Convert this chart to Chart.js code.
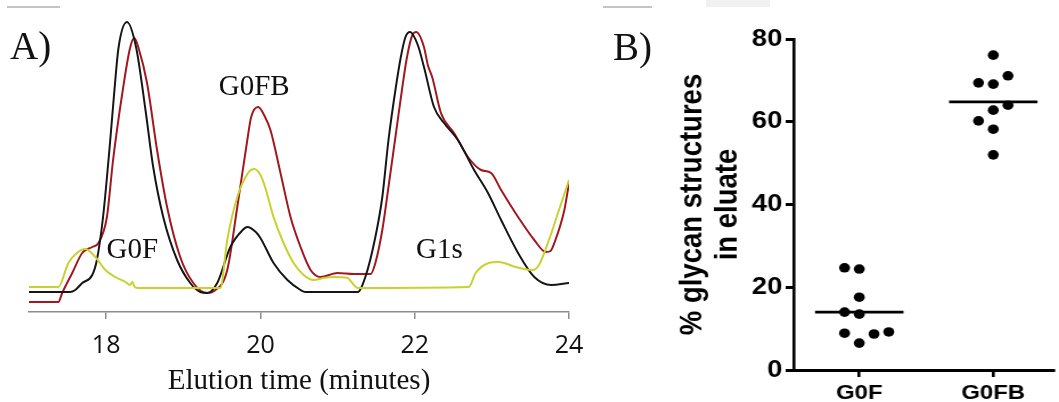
<!DOCTYPE html>
<html>
<head>
<meta charset="utf-8">
<script src="https://cdn.jsdelivr.net/npm/chart.js@4.4.1/dist/chart.umd.min.js"></script>
<style>
  html, body { margin: 0; padding: 0; background: #fff; }
  #wrap { position: relative; width: 1059px; height: 402px; overflow: hidden; }
  #canvas-a { position: absolute; left: 0; top: 0; }
  /* panel B in the source figure is stretched sideways a little */
  #canvas-b { position: absolute; left: 600px; top: 0; transform: scaleX(1.139); transform-origin: 0 0; }
  .panel { position: absolute; font-family: "Liberation Serif", "Times New Roman", serif; font-size: 39px; line-height: 1; color: #111; }
  .rule { position: absolute; height: 2px; background: #c4c4c4; }
</style>
</head>
<body>
<div id="wrap">
  <canvas id="canvas-a" width="600" height="402"></canvas>
  <canvas id="canvas-b" width="403" height="402"></canvas>
  <div class="rule" style="left:7px;top:6px;width:53px"></div>
  <div class="rule" style="left:603px;top:6px;width:49px"></div>
  <div style="position:absolute;left:706px;top:0;width:64px;height:7px;background:#f1f1f1"></div>
  <div class="panel" style="left:10px;top:26px">A)</div>
  <div class="panel" style="left:613px;top:27px">B)</div>
</div>
<script>
// Panel A: chromatogram traces (time in minutes, signal in arbitrary units)
const blackT = [17.00, 17.53, 17.60, 17.69, 17.82, 17.88, 17.96, 18.05, 18.10, 18.16, 18.27, 18.39, 18.51, 18.61, 18.74, 18.92, 19.09, 19.22, 19.31, 19.44, 19.61, 19.77, 19.83, 19.94, 20.00, 20.17, 20.35, 20.52, 20.58, 21.26, 21.36, 21.49, 21.58, 21.66, 21.75, 21.82, 21.88, 21.94, 22.04, 22.12, 22.25, 22.38, 22.56, 22.77, 22.95, 23.12, 23.34, 23.55, 23.77, 24.00];
const blackV = [20, 20, 22, 29, 37, 52, 95, 169, 215, 264, 290, 264, 202, 145, 95, 52, 29, 20, 19, 29, 65, 82, 85, 80, 74, 49, 32, 22, 20, 20, 35, 75, 115, 172, 222, 255, 275, 280, 267, 245, 205, 189, 172, 142, 119, 92, 59, 35, 27, 29];

const redT = [17.00, 17.38, 17.43, 17.56, 17.69, 17.82, 17.90, 18.01, 18.09, 18.21, 18.31, 18.365, 18.42, 18.53, 18.66, 18.79, 18.96, 19.13, 19.31, 19.40, 19.57, 19.70, 19.83, 19.88, 19.97, 20.06, 20.13, 20.26, 20.39, 20.52, 20.65, 20.78, 21.00, 21.21, 21.43, 21.49, 21.58, 21.66, 21.75, 21.84, 21.90, 21.97, 22.02, 22.12, 22.17, 22.23, 22.34, 22.51, 22.69, 22.86, 22.99, 23.12, 23.34, 23.55, 23.70, 23.76, 23.81, 23.94, 24.00];
const redV = [10, 10, 19, 39, 59, 65, 69, 95, 152, 219, 264, 274, 264, 229, 162, 105, 55, 29, 19, 21, 42, 105, 172, 195, 205, 195, 182, 139, 95, 65, 42, 35, 39, 38, 38, 49, 82, 125, 175, 225, 255, 277, 280, 265, 247, 234, 199, 179, 155, 142, 139, 122, 95, 72, 60, 61, 69, 102, 129];

const yellowT = [17.00, 17.38, 17.51, 17.62, 17.73, 17.86, 17.99, 18.12, 18.25, 18.31, 18.34, 18.37, 18.42, 19.48, 19.57, 19.70, 19.84, 19.92, 20.00, 20.06, 20.17, 20.30, 20.43, 20.56, 20.69, 20.82, 20.95, 21.13, 21.19, 21.26, 22.70, 22.79, 22.96, 23.09, 23.31, 23.53, 23.61, 23.74, 23.87, 24.00];
const yellowV = [25, 25, 49, 59, 63, 55, 42, 35, 30, 27, 30, 25, 24, 24, 72, 115, 139, 143, 137, 125, 95, 69, 49, 37, 32, 34, 35, 34, 29, 24, 25, 39, 49, 50, 45, 42, 47, 72, 102, 132];

const xTicksA = [18, 20, 22, 24];

// peak annotations, placed in data coordinates
const peakNames = ['G0F', 'G0FB', 'G1s'];
const peakLabelT = [18.34, 19.92, 22.32];
const peakLabelV = [54, 217, 54];

// Panel B: % glycan structures in eluate
const categories = ['G0F', 'G0FB'];
const g0fValues = [24.7, 24.4, 17.6, 14.0, 13.5, 8.9, 8.7, 9.2, 6.5];
const g0fCols = [-1, 0, 0, -1, 0, -1, 1, 2, 0];
const g0fbValues = [76.1, 69.4, 69.1, 71.1, 64.0, 62.8, 60.2, 58.2, 52.0];
const g0fbCols = [0, -1, 0, 1, 1, 0, -1, 0, 0];
const medians = [14.0, 64.8];
const yTicksB = [0, 20, 40, 60, 80];

const SERIF = '"Liberation Serif", "Times New Roman", serif';
const SANS = '"Liberation Sans", Arial, sans-serif';

function trace(ts, vs, color) {
  return {
    data: ts.map((t, i) => ({ x: t, y: vs[i] })),
    borderColor: color,
    borderWidth: 2,
    pointRadius: 0,
    fill: false,
    cubicInterpolationMode: 'monotone',
  };
}

const peakLabelPlugin = {
  id: 'peakLabels',
  afterDatasetsDraw(chart) {
    const { ctx, scales: { x, y } } = chart;
    ctx.save();
    ctx.font = '29px ' + SERIF;
    ctx.fillStyle = '#111';
    ctx.textAlign = 'center';
    ctx.textBaseline = 'alphabetic';
    peakNames.forEach((name, i) => {
      ctx.fillText(name, x.getPixelForValue(peakLabelT[i]), y.getPixelForValue(peakLabelV[i]));
    });
    ctx.restore();
  },
};

new Chart(document.getElementById('canvas-a'), {
  type: 'line',
  data: {
    datasets: [
      trace(yellowT, yellowV, '#c8d22e'),
      trace(blackT, blackV, '#161616'),
      trace(redT, redV, '#a3181e'),
    ],
  },
  options: {
    responsive: false,
    animation: false,
    layout: { padding: { left: 29, right: 31, top: 12, bottom: 0 } },
    plugins: { legend: { display: false }, tooltip: { enabled: false } },
    scales: {
      x: {
        type: 'linear',
        min: 17,
        max: 24,
        afterBuildTicks: (axis) => { axis.ticks = xTicksA.map((v) => ({ value: v })); },
        afterFit: (scale) => { scale.height = 90; },
        grid: { drawOnChartArea: false, tickLength: 7, color: '#8c8c8c', lineWidth: 1.5 },
        border: { color: '#8c8c8c', width: 1.5 },
        ticks: { color: '#111', font: { family: '"Open Sans"', size: 25 }, padding: 12, maxRotation: 0 },
        title: {
          display: true,
          text: 'Elution time (minutes)',
          color: '#111',
          font: { family: SERIF, size: 29 },
          padding: { top: 0, bottom: 3 },
        },
      },
      y: { display: false, min: 0, max: 300 },
    },
  },
  plugins: [peakLabelPlugin],
});

const jitter = 0.11;
const halfWidth = 0.33;

function dots(values, cols, cat) {
  return {
    type: 'scatter',
    data: values.map((v, i) => ({ x: cat + cols[i] * jitter, y: v })),
    pointRadius: 4.8,
    pointBackgroundColor: '#000',
    pointBorderWidth: 0,
  };
}

function medianLine(cat) {
  return {
    type: 'line',
    data: [{ x: cat - halfWidth, y: medians[cat] }, { x: cat + halfWidth, y: medians[cat] }],
    borderColor: '#000',
    borderWidth: 2.6,
    pointRadius: 0,
  };
}

new Chart(document.getElementById('canvas-b'), {
  type: 'scatter',
  data: {
    datasets: [
      dots(g0fValues, g0fCols, 0),
      dots(g0fbValues, g0fbCols, 1),
      medianLine(0),
      medianLine(1),
    ],
  },
  options: {
    responsive: false,
    animation: false,
    layout: { padding: { left: 50, right: 0, top: 39, bottom: 0 } },
    plugins: { legend: { display: false }, tooltip: { enabled: false } },
    scales: {
      x: {
        type: 'linear',
        min: -0.49,
        max: 1.45,
        afterBuildTicks: (axis) => { axis.ticks = [0, 1].map((v) => ({ value: v })); },
        afterFit: (scale) => { scale.height = 32; },
        grid: { drawOnChartArea: false, tickLength: 7, color: '#000', lineWidth: 2.6 },
        border: { color: '#000', width: 3 },
        ticks: {
          color: '#000',
          font: { family: SANS, size: 21, weight: 'bold' },
          padding: 4,
          maxRotation: 0,
          callback: (v) => categories[v],
        },
      },
      y: {
        min: 0,
        max: 80,
        afterBuildTicks: (axis) => { axis.ticks = yTicksB.map((v) => ({ value: v })); },
        afterFit: (scale) => { scale.width = 120; },
        grid: { drawOnChartArea: false, tickLength: 7, color: '#000', lineWidth: 3 },
        border: { color: '#000', width: 2.6 },
        ticks: { color: '#000', font: { family: SANS, size: 24, weight: 'bold' }, padding: 3 },
        title: {
          display: true,
          text: ['% glycan structures', 'in eluate'],
          color: '#000',
          font: { family: SANS, size: 27.5, weight: 'bold', lineHeight: 1.12 },
          padding: { top: 16, bottom: 0 },
        },
      },
    },
  },
});
</script>
</body>
</html>
